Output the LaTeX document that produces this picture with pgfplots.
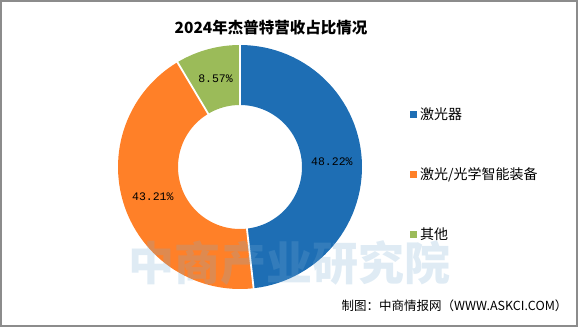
\documentclass[border=0pt]{standalone}
\usepackage{pgfplots}
\usepackage{pgfplotstable}
\pgfplotsset{compat=1.18}
\usepackage{fontspec}
\setmainfont{Liberation Sans}
\newfontfamily\cjk{Noto Sans CJK SC}
\newfontfamily\mono{Liberation Mono}
\definecolor{cblue}{RGB}{30,110,180}
\definecolor{corange}{RGB}{255,128,40}
\definecolor{cgreen}{RGB}{155,187,89}
\definecolor{wmblue}{RGB}{120,172,210}
\definecolor{frame}{RGB}{140,140,140}

\pgfplotstableread{
label value
A 48.22
B 43.21
C 8.57
}\datatable

\pgfplotstablegetelem{0}{value}\of\datatable \let\va\pgfplotsretval
\pgfplotstablegetelem{1}{value}\of\datatable \let\vb\pgfplotsretval
\pgfplotstablegetelem{2}{value}\of\datatable \let\vc\pgfplotsretval

\def\cx{240}
\def\cy{167}
\def\R{122}
\def\r{62}
\def\rm{92}

\pgfmathsetmacro\aA{90}
\pgfmathsetmacro\aB{90-3.6*\va}
\pgfmathsetmacro\aC{90-3.6*(\va+\vb)}
\pgfmathsetmacro\aD{90-3.6*(\va+\vb+\vc)}
\pgfmathsetmacro\mA{(\aA+\aB)/2}
\pgfmathsetmacro\mB{(\aB+\aC)/2}
\pgfmathsetmacro\mC{(\aC+\aD)/2}

\newcommand{\ring}[3]{%
\addplot[fill=#3, draw=none, variable=\t, domain=0:2, samples=121]
 ({\cx + ((\t<1.01) ? \R : \r)*cos((\t<1.01) ? (#1+(#2-#1)*\t) : (#2-(#2-#1)*(\t-1.02)/0.98))},
  {\cy - ((\t<1.01) ? \R : \r)*sin((\t<1.01) ? (#1+(#2-#1)*\t) : (#2-(#2-#1)*(\t-1.02)/0.98))});
}
\newcommand{\sep}[1]{%
\addplot[white, line width=1.8pt, domain=\r-1:\R+1, samples=2, forget plot]
 ({\cx + x*cos(#1)},{\cy - x*sin(#1)});
}

\begin{document}
\begin{tikzpicture}
\begin{axis}[
  x=1pt, y=1pt,
  xmin=0, xmax=585, ymin=0, ymax=327,
  y dir=reverse,
  hide axis, scale only axis, clip=false,
  legend style={draw=none, fill=none, at={(axis cs:407,106)}, anchor=north west,
    font=\cjk\fontsize{14}{16}\selectfont, row sep=46.5pt,
    nodes={inner sep=0pt, anchor=west}, column sep=3pt},
  legend cell align=left,
  legend image code/.code={\fill[#1] (0pt,-3.5pt) rectangle (7pt,3.5pt);},
]
\path[use as bounding box] (axis cs:0,0) rectangle (axis cs:585,327);
\draw[frame, line width=1.5pt] (axis cs:1,1) rectangle (axis cs:577,326);
\ring{\aA}{\aB}{cblue}
\addlegendentry{激光器}
\ring{\aB}{\aC}{corange}
\addlegendentry{激光/光学智能装备}
\ring{\aC}{\aD}{cgreen}
\addlegendentry{其他}
\sep{\aA}
\sep{\aB}
\sep{\aC}

\node[font=\mono\fontsize{11.5}{13}\selectfont] at (axis cs:{\cx+\rm*cos(\mA)},{\cy-\rm*sin(\mA)}) {48.22\%};
\node[font=\mono\fontsize{11.5}{13}\selectfont] at (axis cs:{\cx+\rm*cos(\mB)},{\cy-\rm*sin(\mB)}) {43.21\%};
\node[font=\mono\fontsize{11.5}{13}\selectfont] at (axis cs:{\cx+\rm*cos(\mC)},{\cy-\rm*sin(\mC)}) {8.57\%};

\node[font=\cjk\bfseries\fontsize{15.5}{18}\selectfont] at (axis cs:271,28) {2024年杰普特营收占比情况};
\node[font=\cjk\fontsize{12.5}{15}\selectfont, anchor=east] at (axis cs:571,306) {制图：中商情报网（WWW.ASKCI.COM）};
\node[font=\cjk\bfseries\fontsize{46}{50}\selectfont, text=wmblue, opacity=0.24] at (axis cs:289,263) {中商产业研究院};
\end{axis}
\end{tikzpicture}
\end{document}
